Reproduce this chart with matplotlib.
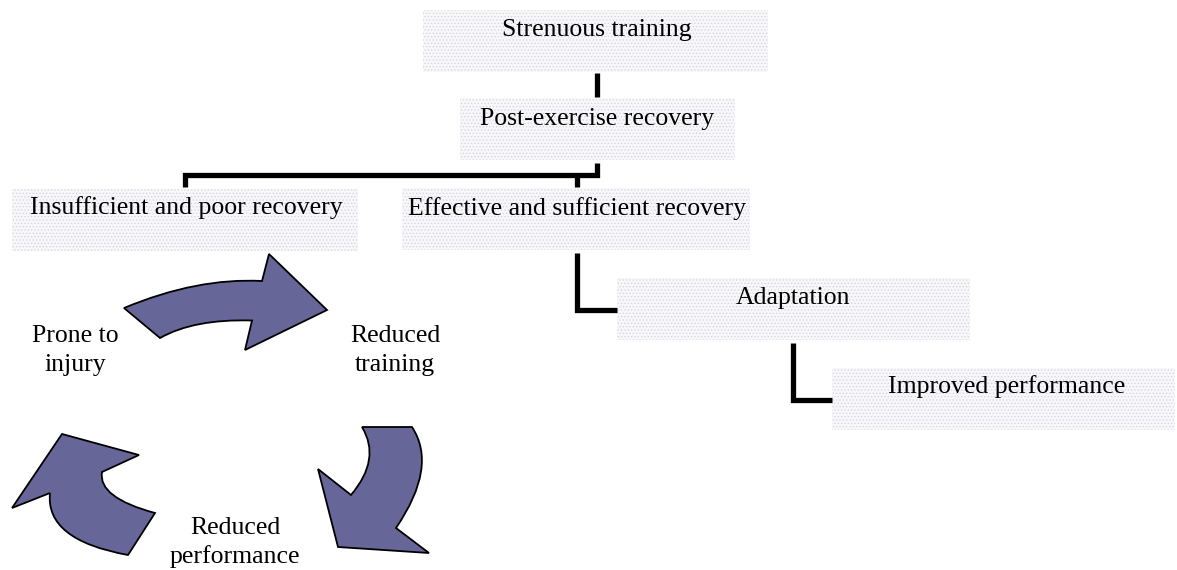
import matplotlib
matplotlib.use("Agg")
import matplotlib.pyplot as plt
from matplotlib.patches import Rectangle, PathPatch
from matplotlib.path import Path

plt.rcParams['font.family'] = ['Liberation Serif', 'DejaVu Serif']
plt.rcParams['hatch.linewidth'] = 0.6

# node labels of the tree and the boxes they sit in (pixel coords, y down)
node_labels = ["Strenuous training", "Post-exercise recovery",
               "Insufficient and poor recovery", "Effective and sufficient recovery",
               "Adaptation", "Improved performance"]
node_boxes = [(423, 10, 768, 72), (460, 98, 735, 160),
              (12, 189, 358, 251), (402, 188, 750, 250),
              (617, 278, 970, 340), (832, 368, 1175, 430)]
node_text_x = [597, 597, 186, 577, 793, 1007]
node_baseline = [36, 125, 214, 215, 304, 393]

# labels of the vicious cycle
cycle_labels = ["Prone to\ninjury", "Reduced\ntraining", "Reduced\nperformance"]
cycle_text_x = [75, 395, 235]
cycle_baseline = [342, 342, 534]

# connector polylines
connectors = [
    [(597, 73), (597, 97)],
    [(597, 163), (597, 175), (185, 175), (185, 187)],
    [(577, 175), (577, 187)],
    [(577, 253), (577, 310), (617, 310)],
    [(793, 343), (793, 400), (832, 400)],
]


def quad(p0, mid, p2):
    # control point of a quadratic bezier running through mid
    return (2 * mid[0] - (p0[0] + p2[0]) / 2, 2 * mid[1] - (p0[1] + p2[1]) / 2)


def curved_arrow(tail_a, inner_mid, notch_a, head_a, tip, head_b, notch_b, outer_mid, tail_b):
    verts = [tail_a,
             quad(tail_a, inner_mid, notch_a), notch_a,
             head_a, tip, head_b, notch_b,
             quad(notch_b, outer_mid, tail_b), tail_b,
             tail_a]
    codes = [Path.MOVETO,
             Path.CURVE3, Path.CURVE3,
             Path.LINETO, Path.LINETO, Path.LINETO, Path.LINETO,
             Path.CURVE3, Path.CURVE3,
             Path.CLOSEPOLY]
    return Path(verts, codes)


arrows = [
    # top: prone to injury -> reduced training
    curved_arrow((160, 338), (200, 324), (252, 320.5), (245, 350), (327, 310),
                 (269, 254), (262, 281), (195, 286), (124, 308)),
    # right: reduced training -> reduced performance
    curved_arrow((362, 427), (369, 460), (351, 495), (318, 469), (338, 547),
                 (429, 553), (396, 528), (421, 472), (412, 427)),
    # left: reduced performance -> prone to injury
    curved_arrow((155, 513), (113, 495), (102, 472), (139, 455), (62, 434),
                 (12, 508), (50, 493), (67, 532), (128, 555)),
]

fig = plt.figure(figsize=(11.77, 5.70), dpi=100)
ax = fig.add_axes([0, 0, 1, 1])
ax.set_xlim(0, 1177)
ax.set_ylim(570, 0)
ax.axis('off')

for (x0, y0, x1, y1), label, tx, by in zip(node_boxes, node_labels, node_text_x, node_baseline):
    ax.add_patch(Rectangle((x0, y0), x1 - x0, y1 - y0, facecolor='#f8f8fa',
                           edgecolor='#d6d6e0', hatch='.....', linewidth=0))
    ax.text(tx, by, label, ha='center', va='baseline', fontsize=18.5, color='black')

for pts in connectors:
    xs = [p[0] for p in pts]
    ys = [p[1] for p in pts]
    ax.plot(xs, ys, color='black', linewidth=3.8, solid_joinstyle='miter',
            solid_capstyle='butt')

for path in arrows:
    ax.add_patch(PathPatch(path, facecolor='#666699', edgecolor='black',
                           linewidth=1.3, joinstyle='miter'))

for label, tx, by in zip(cycle_labels, cycle_text_x, cycle_baseline):
    for i, line in enumerate(label.split('\n')):
        ax.text(tx, by + i * 29, line, ha='center', va='baseline', fontsize=18.5)

fig.savefig('out.png', dpi=100)
